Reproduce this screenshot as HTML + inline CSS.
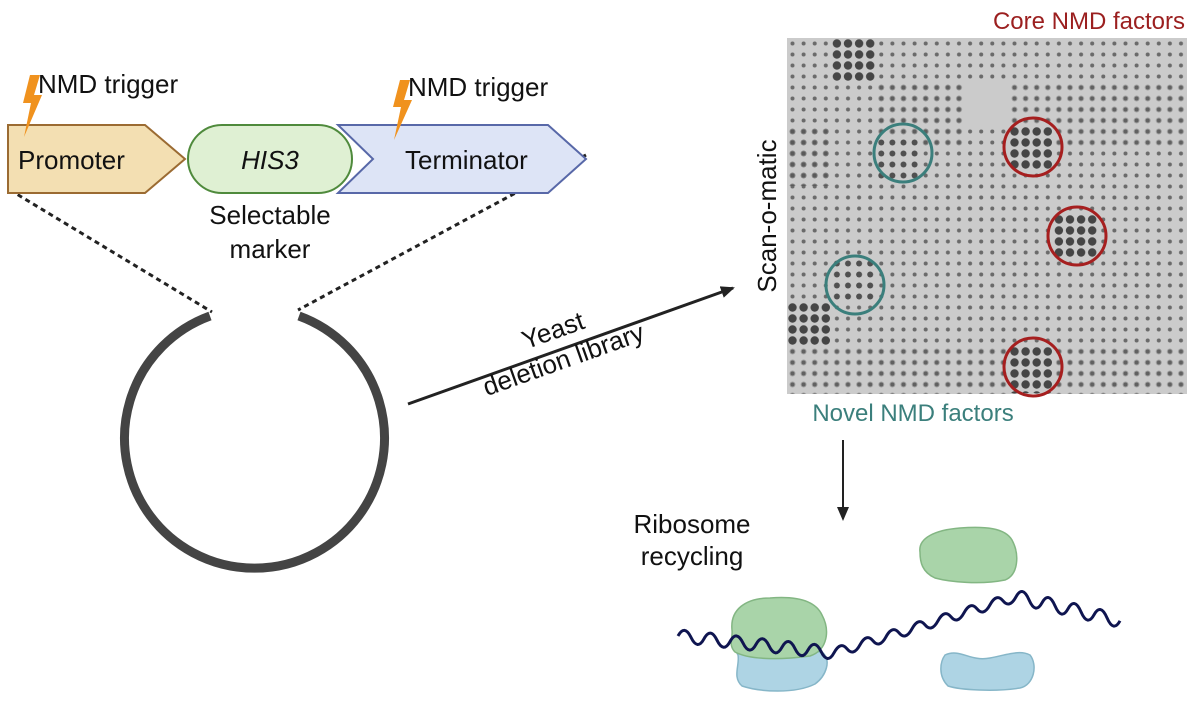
<!DOCTYPE html>
<html><head><meta charset="utf-8"><style>
html,body{margin:0;padding:0;background:#fff;}
svg text{font-family:"Liberation Sans",sans-serif;}
</style></head><body>
<svg width="1200" height="698" viewBox="0 0 1200 698" xmlns="http://www.w3.org/2000/svg">
<defs>
<pattern id="dots" x="787" y="38" width="11.1" height="11" patternUnits="userSpaceOnUse">
<rect width="11.1" height="11" fill="#cbcbcb"/>
<circle cx="5.5" cy="5.5" r="2" fill="#6a6a6a"/>
</pattern>
<pattern id="big" x="787" y="38" width="11.1" height="11" patternUnits="userSpaceOnUse">
<rect width="11.1" height="11" fill="#cbcbcb"/>
<circle cx="5.5" cy="5.5" r="4.2" fill="#454545"/>
</pattern>
<pattern id="med" x="787" y="38" width="11.1" height="11" patternUnits="userSpaceOnUse">
<rect width="11.1" height="11" fill="#cbcbcb"/>
<circle cx="5.5" cy="5.5" r="3" fill="#505050"/>
</pattern>
<marker id="ah" markerWidth="14" markerHeight="12" refX="12" refY="6" orient="auto" markerUnits="userSpaceOnUse"><path d="M0,0 L14,6 L0,12 z" fill="#222"/></marker>
</defs>

<line x1="10" y1="190" x2="212" y2="312" stroke="#222" stroke-width="3" stroke-dasharray="5,4"/>
<line x1="586" y1="155" x2="298" y2="310" stroke="#222" stroke-width="3" stroke-dasharray="5,4"/>

<polygon points="8,125 145,125 185,159 145,193 8,193" fill="#f3dfb2" stroke="#9b6b32" stroke-width="2"/>
<rect x="188" y="125" width="164" height="68" rx="34" fill="#dff0d3" stroke="#4f8a3c" stroke-width="2"/>
<polygon points="338,125 548,125 586,159 548,193 338,193 373,159" fill="#dde4f6" stroke="#5868a8" stroke-width="2"/>

<polygon points="30,75 40,75 34,95 42,95 24,137 31,103 23,103" fill="#f0921e"/>
<polygon points="400,80 410,80 404,100 412,100 394,140 401,107 393,107" fill="#f0921e"/>

<text x="38" y="93" font-size="26" fill="#111">NMD trigger</text>
<text x="408" y="96" font-size="26" fill="#111">NMD trigger</text>
<text x="18" y="169" font-size="26" fill="#111">Promoter</text>
<text x="270" y="169" font-size="26" font-style="italic" text-anchor="middle" fill="#111">HIS3</text>
<text x="405" y="169" font-size="26" fill="#111">Terminator</text>
<text x="270" y="224" font-size="26" text-anchor="middle" fill="#111">Selectable</text>
<text x="270" y="258" font-size="26" text-anchor="middle" fill="#111">marker</text>

<path d="M210,316 A130,130 0 1 0 299,316" fill="none" stroke="#444" stroke-width="9"/>

<line x1="408" y1="404" x2="733" y2="288" stroke="#222" stroke-width="3" marker-end="url(#ah)"/>
<g transform="rotate(-19.6 560 350)">
<text x="560" y="338" font-size="26" text-anchor="middle" fill="#111">Yeast</text>
<text x="560" y="369" font-size="26" text-anchor="middle" fill="#111">deletion library</text>
</g>

<rect x="787" y="38" width="400" height="356" fill="url(#dots)"/>
<rect x="787" y="126" width="45" height="60" fill="url(#med)" opacity="0.6"/>
<rect x="831" y="38" width="45" height="44" fill="url(#big)"/>
<rect x="876" y="82" width="90" height="66" fill="url(#med)" opacity="0.45"/>
<rect x="965" y="82" width="45" height="44" fill="#cbcbcb"/>
<rect x="1009" y="82" width="178" height="66" fill="url(#med)" opacity="0.35"/>
<rect x="787" y="302" width="44" height="44" fill="url(#big)"/>
<rect x="787" y="346" width="400" height="48" fill="url(#med)" opacity="0.35"/>
<rect x="876" y="137" width="44" height="44" fill="url(#med)"/>
<rect x="831" y="258" width="44" height="44" fill="url(#med)"/>
<rect x="1009" y="126" width="45" height="44" fill="url(#big)"/>
<rect x="1053" y="214" width="45" height="44" fill="url(#big)"/>
<rect x="1009" y="346" width="45" height="47" fill="url(#big)"/>
<circle cx="1033" cy="147" r="29" fill="none" stroke="#a61f1f" stroke-width="3"/>
<circle cx="1077" cy="236" r="29" fill="none" stroke="#a61f1f" stroke-width="3"/>
<circle cx="1033" cy="367" r="29" fill="none" stroke="#a61f1f" stroke-width="3"/>
<circle cx="903" cy="153" r="29" fill="none" stroke="#3b7f7c" stroke-width="3"/>
<circle cx="855" cy="285" r="29" fill="none" stroke="#3b7f7c" stroke-width="3"/>

<text x="1185" y="29" font-size="24" text-anchor="end" fill="#9b1f1f">Core NMD factors</text>
<text x="913" y="421" font-size="24" text-anchor="middle" fill="#3b7f7c">Novel NMD factors</text>
<text transform="translate(776 216) rotate(-90)" font-size="26" text-anchor="middle" fill="#111">Scan-o-matic</text>

<line x1="843" y1="440" x2="843" y2="519" stroke="#222" stroke-width="2" marker-end="url(#ah)"/>
<text x="692" y="533" font-size="26" text-anchor="middle" fill="#111">Ribosome</text>
<text x="692" y="565" font-size="26" text-anchor="middle" fill="#111">recycling</text>

<path d="M738,655 C732,645 742,648 760,652 C785,656 805,650 822,652 C832,660 826,676 815,684 C795,694 760,692 742,686 C732,677 740,665 738,655 z" fill="#aed4e4" stroke="#86b6c8" stroke-width="1.5"/>
<path d="M945,655 C960,648 970,662 990,658 C1010,654 1020,650 1030,655 C1038,665 1034,685 1020,688 C995,692 960,690 948,686 C938,676 940,662 945,655 z" fill="#aed4e4" stroke="#86b6c8" stroke-width="1.5"/>
<path d="M732,630 C730,610 745,598 770,598 C795,596 815,600 822,615 C830,630 828,650 810,656 C780,660 750,660 735,652 C728,645 733,638 732,630 z" fill="#a9d4a9" stroke="#83b683" stroke-width="1.5"/>
<path d="M920,552 C918,538 935,530 960,528 C985,526 1005,528 1012,540 C1020,555 1018,575 1005,580 C980,585 950,582 935,578 C922,572 920,562 920,552 z" fill="#a9d4a9" stroke="#83b683" stroke-width="1.5"/>

<path d="M678,636 q6.5,-12 13,1.4 t13,1.4 t13,1.4 t13,1.4 t13,1.4 t13,1.4 t13,1.4 t13,1.4 t13,1.4 t13,1.4 t13,1.4 t13,1.4 t13,-4 t13,-4 t13,-4 t13,-4 t13,-4 t13,-4 t13,-4 t13,-4 t13,-4 t13,-4 t13,-4 t13,-4 t13,-4 t13,-4 t13,3 t13,3 t13,3 t13,3 t13,3 t13,3 t13,3 t13,3" fill="none" stroke="#0f1550" stroke-width="3"/>
</svg>
</body></html>
